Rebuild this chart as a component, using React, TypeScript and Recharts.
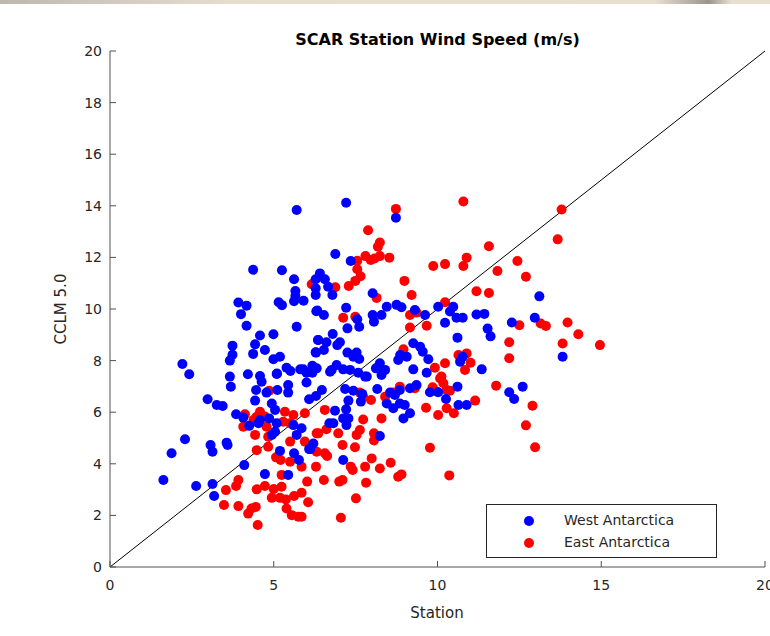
import React from 'react';
import { ScatterChart, Scatter, XAxis, YAxis, ReferenceLine } from 'recharts';

// West Antarctica stations: observed (station) vs model (CCLM 5.0) wind speed
const westStation = [
  5.70, 4.37, 5.25, 5.62, 6.28, 6.28, 6.28, 5.66, 5.66, 5.62, 5.91, 3.92, 4.17, 4.00, 5.15, 5.25, 6.30,
  4.17, 5.70, 4.58, 4.99, 6.35, 3.74, 4.43, 4.73, 3.74, 3.66, 4.37, 4.99, 5.19, 6.28, 2.21, 2.42, 3.66,
  4.21, 4.58, 5.10, 5.39, 5.51, 5.81, 6.18, 6.18, 7.21, 8.73, 6.88, 7.35, 6.41, 6.56, 6.66, 6.79, 8.02,
  7.21, 6.33, 6.53, 8.29, 8.45, 8.75, 8.90, 9.31, 9.62, 10.02, 10.48, 10.38, 10.58, 10.77, 8.02, 8.06,
  7.55, 7.61, 7.25, 10.23, 10.61, 6.80, 7.02, 6.94, 6.36, 6.61, 6.53, 6.29, 7.25, 7.53, 7.43, 7.61, 9.26,
  9.47, 9.55, 9.72, 8.86, 8.80, 9.06, 9.26, 10.77, 10.69, 6.31, 5.90, 6.00, 6.92, 6.77, 7.12, 7.33, 8.24,
  8.40, 8.12, 7.84, 7.58, 9.67, 13.11, 11.19, 11.43, 11.53, 11.62, 12.27, 12.97, 13.82, 11.35, 3.69, 4.63,
  5.09, 5.44, 5.44, 5.11, 4.46, 4.43, 4.78, 2.98, 3.26, 3.44, 3.85, 4.07, 4.25, 4.94, 5.04, 4.86, 4.58,
  4.53, 5.09, 5.04, 4.94, 5.60, 5.85, 5.70, 6.21, 6.08, 5.19, 5.62, 5.77, 2.29, 1.88, 3.07, 3.13, 3.56,
  3.59, 4.10, 1.63, 2.63, 3.13, 3.18, 4.73, 5.44, 10.61, 9.77, 10.02, 10.26, 10.64, 10.89, 6.00, 6.08,
  6.29, 6.47, 7.18, 7.43, 7.28, 7.66, 7.70, 6.87, 7.21, 7.12, 7.28, 7.22, 6.70, 6.82, 8.16, 8.55, 8.70,
  8.85, 9.16, 9.36, 8.45, 8.65, 8.85, 9.00, 9.16, 8.96, 8.24, 7.12, 6.11, 6.72, 7.79, 8.29, 12.19, 12.34,
  12.60,
];
const westCclm = [
  13.84, 11.52, 11.50, 11.15, 11.15, 10.80, 10.54, 10.70, 10.50, 10.30, 10.32, 10.25, 10.13, 9.80, 10.26,
  10.15, 9.91, 9.35, 9.31, 8.97, 9.02, 8.80, 8.58, 8.63, 8.41, 8.23, 8.00, 8.26, 8.05, 8.15, 8.32, 7.87,
  7.47, 7.38, 7.47, 7.40, 7.50, 7.72, 7.60, 7.66, 7.80, 7.53, 14.12, 13.54, 12.13, 11.86, 11.38, 11.15,
  10.86, 10.54, 10.61, 10.05, 9.94, 9.77, 9.77, 10.09, 10.16, 10.07, 9.96, 9.77, 10.09, 10.09, 9.90, 9.66,
  9.66, 9.77, 9.51, 9.60, 9.31, 9.25, 9.47, 8.89, 9.03, 8.71, 8.60, 8.80, 8.71, 8.41, 8.31, 8.31, 8.31,
  8.15, 8.06, 8.67, 8.54, 8.34, 8.05, 8.22, 8.02, 8.15, 7.66, 8.15, 7.96, 7.70, 7.66, 7.53, 7.83, 7.64,
  7.66, 7.64, 7.90, 7.64, 7.70, 7.38, 7.53, 7.53, 10.49, 9.79, 9.81, 9.24, 8.94, 9.48, 9.66, 8.15, 7.66,
  6.99, 7.18, 7.48, 7.05, 6.76, 6.86, 6.86, 6.45, 6.76, 6.50, 6.28, 6.24, 5.92, 5.79, 5.47, 6.34, 6.09,
  5.76, 5.70, 5.57, 5.57, 5.24, 5.12, 5.50, 5.38, 5.12, 4.79, 4.57, 4.50, 4.41, 4.15, 4.95, 4.41, 4.73,
  4.47, 4.82, 4.73, 3.95, 3.37, 3.14, 3.22, 2.75, 3.60, 3.57, 6.99, 6.77, 6.77, 6.51, 6.28, 6.28, 7.15,
  6.50, 6.63, 6.86, 6.90, 6.83, 6.45, 6.41, 6.71, 6.06, 6.11, 5.76, 5.76, 5.50, 5.57, 5.57, 6.90, 6.76,
  6.67, 6.86, 6.93, 7.05, 6.34, 6.15, 6.34, 6.28, 5.96, 5.76, 5.08, 4.15, 4.57, 7.57, 7.38, 7.44, 6.77,
  6.51, 6.99,
];

// East Antarctica stations
const eastStation = [
  6.16, 8.73, 10.79, 7.88, 8.24, 8.18, 8.53, 7.80, 7.96, 8.08, 8.24, 7.55, 7.55, 7.65, 7.49, 7.29, 9.87,
  10.23, 10.79, 10.89, 8.99, 6.88, 8.14, 9.21, 7.12, 7.49, 9.16, 9.36, 9.67, 9.16, 10.23, 8.96, 10.64,
  10.89, 10.23, 9.92, 10.84, 8.22, 10.12, 13.79, 13.67, 11.57, 12.44, 11.83, 12.70, 11.19, 11.57, 12.50,
  13.15, 13.31, 13.97, 14.30, 13.82, 14.96, 12.19, 12.19, 11.01, 4.86, 4.12, 4.07, 4.58, 4.48, 4.73, 4.38,
  5.34, 5.60, 5.95, 5.29, 5.50, 4.78, 4.83, 4.43, 4.83, 4.48, 5.50, 5.95, 6.31, 6.31, 5.07, 5.21, 5.50,
  5.85, 6.29, 3.92, 3.85, 3.54, 4.48, 4.73, 5.00, 5.24, 5.24, 6.02, 3.48, 3.92, 4.22, 4.32, 4.45, 4.94,
  5.19, 5.37, 5.62, 5.85, 6.05, 5.39, 5.55, 5.75, 5.85, 4.51, 10.08, 10.18, 9.85, 9.97, 10.28, 10.38,
  9.65, 10.02, 10.28, 10.50, 9.77, 10.36, 7.63, 7.73, 7.97, 8.40, 8.65, 8.85, 9.31, 6.56, 6.97, 7.53,
  7.63, 8.06, 8.06, 7.73, 8.29, 6.36, 6.61, 6.56, 6.63, 7.10, 7.48, 7.99, 7.79, 8.24, 8.57, 7.35, 7.41,
  6.53, 7.00, 7.10, 7.82, 8.80, 8.90, 7.51, 7.05, 11.15, 11.79, 12.90, 12.70, 12.98,
];
const eastCclm = [
  10.96, 13.88, 14.17, 13.05, 12.58, 12.41, 11.99, 12.05, 11.90, 11.96, 12.05, 11.87, 11.54, 11.27, 11.09,
  10.89, 11.67, 11.74, 11.67, 11.99, 11.09, 10.84, 10.43, 10.54, 9.66, 9.70, 9.77, 9.86, 9.35, 9.28, 10.26,
  8.44, 8.22, 8.28, 7.90, 7.72, 7.64, 7.79, 7.38, 13.86, 12.70, 12.43, 11.86, 11.47, 11.25, 10.69, 10.62,
  9.37, 9.44, 9.34, 9.48, 9.02, 8.66, 8.60, 8.71, 8.09, 7.92, 6.83, 5.92, 5.44, 6.02, 5.83, 5.83, 5.70,
  6.02, 5.89, 5.96, 5.63, 5.57, 5.44, 5.05, 5.12, 4.66, 4.53, 4.86, 4.86, 5.18, 4.47, 4.25, 4.15, 4.08,
  3.89, 3.89, 3.37, 3.14, 2.98, 3.01, 3.14, 3.02, 3.11, 3.57, 3.31, 2.40, 2.36, 2.07, 2.27, 2.33, 2.68,
  2.68, 2.62, 2.75, 2.88, 2.51, 2.27, 2.01, 1.95, 1.95, 1.63, 7.31, 7.12, 6.97, 6.80, 6.86, 6.83, 6.17,
  5.89, 6.15, 5.96, 4.62, 3.55, 6.76, 6.60, 6.47, 6.60, 6.76, 6.99, 6.93, 6.09, 5.18, 5.12, 5.31, 5.18,
  4.90, 5.72, 5.76, 5.18, 5.34, 4.41, 4.30, 4.73, 4.64, 4.21, 3.89, 3.82, 4.04, 3.89, 3.76, 3.37, 3.31,
  3.37, 3.27, 3.50, 3.59, 2.66, 1.91, 6.45, 7.03, 6.25, 5.49, 4.64,
];

const xTicks = [0, 5, 10, 15, 20];
const yTicks = [0, 2, 4, 6, 8, 10, 12, 14, 16, 18, 20];
const oneToOne = [{ station: 0, cclm: 0 }, { station: 20, cclm: 20 }];

const westData = westStation.map((s, i) => ({ station: s, cclm: westCclm[i] }));
const eastData = eastStation.map((s, i) => ({ station: s, cclm: eastCclm[i] }));

const ink = '#262626';
const axisGray = '#505050';
const font = '"DejaVu Sans", sans-serif';

const XTick = ({ x, y, payload }: any) => (
  <g>
    <line x1={x} y1={y} x2={x} y2={y - 6} stroke={axisGray} />
    <text x={x} y={y + 23} textAnchor="middle" fill={ink} fontSize={14} fontFamily={font}>
      {payload.value}
    </text>
  </g>
);

const YTick = ({ x, y, payload }: any) => (
  <g>
    <line x1={x} y1={y} x2={x + 6} y2={y} stroke={axisGray} />
    <text x={x - 8} y={y + 5} textAnchor="end" fill={ink} fontSize={14} fontFamily={font}>
      {payload.value}
    </text>
  </g>
);

const dot = (color: string) => (p: any) => <circle cx={p.cx} cy={p.cy} r={5} fill={color} />;

const LegendBox = () => (
  <div
    style={{
      position: 'absolute', left: 486, top: 504, width: 229, height: 52,
      border: `1px solid ${ink}`, background: '#fff', fontFamily: font, fontSize: 14, color: ink,
    }}
  >
    {[['West Antarctica', '#0000ff'], ['East Antarctica', '#ff0000']].map(([name, c], i) => (
      <div key={name} style={{ position: 'absolute', left: 0, top: 6 + i * 22, height: 20, width: '100%' }}>
        <span style={{ position: 'absolute', left: 37, top: 5, width: 10, height: 10, borderRadius: 5, background: c }} />
        <span style={{ position: 'absolute', left: 77, top: 1 }}>{name}</span>
      </div>
    ))}
  </div>
);

export default function App() {
  return (
    <div style={{ position: 'absolute', left: 0, top: 0, width: 770, height: 636, background: '#fff', overflow: 'hidden' }}>
      <div style={{ position: 'absolute', left: 0, top: 0, width: 770, height: 4, background: 'linear-gradient(90deg, #bdb8b0, #e6ddcd 30%, #e8dfcf 85%, #9a968f 92%, #e8dfcf 95%)' }} />
      <div style={{ position: 'absolute', left: 110, top: 30, width: 655, textAlign: 'center', fontFamily: font, fontWeight: 'bold', fontSize: 16, color: '#000' }}>
        SCAR Station Wind Speed (m/s)
      </div>
      <ScatterChart width={770} height={636} margin={{ top: 51, right: 5, left: 50, bottom: 39 }}>
        <XAxis
          type="number" dataKey="station" domain={[0, 20]} ticks={xTicks} interval={0}
          height={30} tickSize={0} tickMargin={0} tickLine={false} stroke={axisGray} tick={<XTick />}
          label={() => (
            <text x={437} y={618} textAnchor="middle" fill={ink} fontSize={15} fontFamily={font}>Station</text>
          )}
        />
        <YAxis
          type="number" dataKey="cclm" domain={[0, 20]} ticks={yTicks} interval={0}
          width={60} tickSize={0} tickMargin={0} tickLine={false} stroke={axisGray} tick={<YTick />}
          label={() => (
            <text x={66} y={309} transform="rotate(-90 66 309)" textAnchor="middle" fill={ink} fontSize={15} fontFamily={font}>
              CCLM 5.0
            </text>
          )}
        />
        <ReferenceLine segment={oneToOne.map((p) => ({ x: p.station, y: p.cclm }))} stroke="#000" strokeWidth={1} ifOverflow="extendDomain" />
        <Scatter name="East Antarctica" data={eastData} shape={dot('#ff0000')} isAnimationActive={false} />
        <Scatter name="West Antarctica" data={westData} shape={dot('#0000ff')} isAnimationActive={false} />
      </ScatterChart>
      <LegendBox />
    </div>
  );
}
